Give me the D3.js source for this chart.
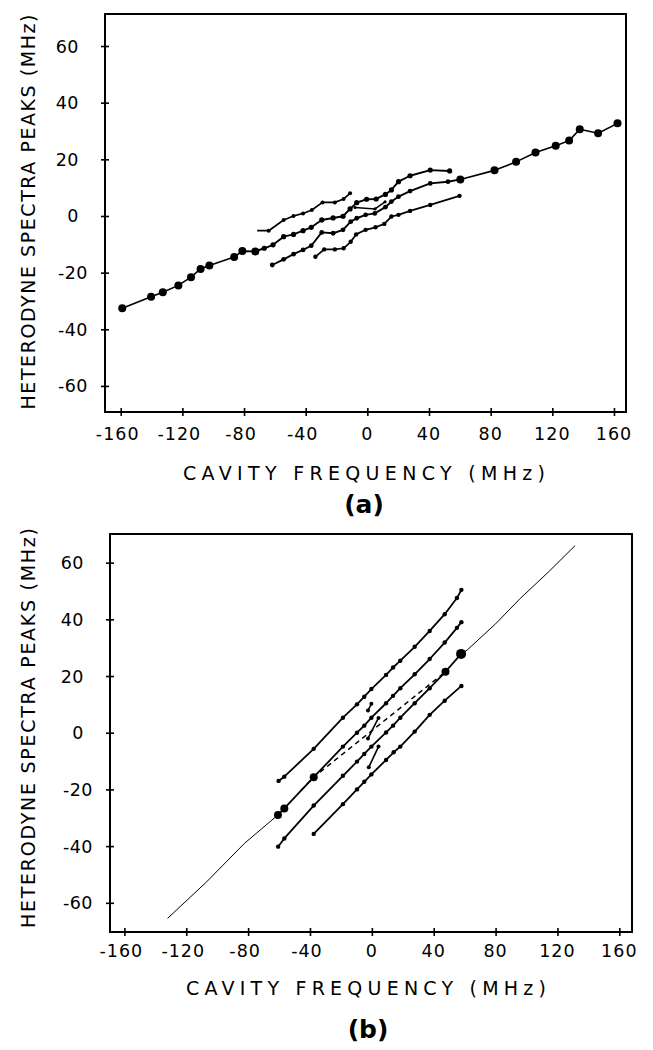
<!DOCTYPE html>
<html><head><meta charset="utf-8">
<script src="https://cdn.jsdelivr.net/npm/d3@7"></script>
<style>body{margin:0;background:#fff}svg{display:block}</style>
</head><body>
<svg id="c" width="653" height="1050"></svg>
<script>
// ---------- data ----------
const xTicks = [-160,-120,-80,-40,0,40,80,120,160];
const yTicks = [-60,-40,-20,0,20,40,60];
const xTitle = "CAVITY FREQUENCY (MHz)";
const yTitle = "HETERODYNE SPECTRA PEAKS (MHz)";

// panel (a)
const aMainLeft = [[-159,-32.6],[-140.3,-28.5],[-132.7,-26.9],[-122.6,-24.5],[-114.4,-21.6],[-108.2,-18.7],[-102.5,-17.5],[-86.4,-14.5],[-81.1,-12.4],[-72.7,-12.5]];
const aMainRight = [[60.3,12.9],[82.5,16.1],[96.5,19.1],[109.1,22.4],[122.2,24.8],[130.9,26.6],[137.8,30.6],[149.7,29.2],[162.3,32.7]];
const aCurve1 = [[-71.5,-5.2],[-64,-5.2],[-54.3,-1.4],[-47.9,0],[-41.7,0.9],[-36,2.1],[-29.1,4.8],[-21.1,4.8],[-15.4,6],[-11.2,8]];
const aCurve2 = [[-72.7,-12.5],[-66.9,-11.4],[-61.2,-10.2],[-54.3,-7.3],[-47.9,-6.5],[-41.7,-5.2],[-36.4,-4],[-29.6,-1.4],[-22.2,-0.7],[-15.8,-0.1],[-11.2,2.5],[-6.9,4.7],[-0.5,5.9],[5.7,6],[11.7,7.6],[15.6,9.2],[20.2,12.1],[27.7,14.2],[40.8,16.2],[53.4,15.9]];
const aCurve3 = [[-61.7,-17.3],[-54.3,-15.3],[-47.9,-13.5],[-41.7,-12],[-36.4,-10.5],[-29.6,-5.8],[-22.2,-6.1],[-15.8,-4.9],[-10.8,-2],[-6.9,-0.8],[-1.1,0.4],[4.8,0.9],[11.7,3.1],[15.6,5.1],[20.2,6.8],[27.7,8.8],[40.8,11.5],[52.3,12.1],[60.3,12.9]];
const aCurve4 = [[-33.7,-14.4],[-28,-11.8],[-21.1,-11.8],[-15.4,-11.4],[-10.8,-9.1],[-7.3,-6.5],[-1.1,-4.9],[5.3,-4],[11,-2.8],[15.6,-0.2],[20.2,0.4],[27.7,1.8],[40.8,3.9],[59.8,7.1]];
const aKink = [[-8,3],[5,2.5],[11.5,5]];

// panel (b)
const bThinLow = [[-132.1,-65.5],[-107,-52.7],[-82.3,-39],[-60.7,-29]];
const bThinHigh = [[57.7,27.8],[61.7,29.2],[80,38.4],[96,47.4],[114,56.6],[131.4,66]];
const bCurve1 = [[-60.3,-17],[-56.6,-15.5],[-37.6,-5.7],[-18.7,5.3],[-9.6,10],[-4.9,12.7],[-0.3,15.4],[9.2,20.4],[13.7,23],[18.4,25.4],[27.7,30.3],[37.4,35.9],[47.1,41.8],[55,47.5],[57.9,50.4]];
const bCurve2 = [[-60.7,-29],[-56.6,-26.7],[-37.6,-15.7],[-18.7,-4.9],[-9.6,0],[-4.9,2.5],[-0.3,5.3],[9.2,10.4],[13.7,13],[18.4,15.7],[27.7,20.6],[37.4,26],[47.1,31.8],[55,37],[57.9,39]];
const bCurve3 = [[-60.6,-40.2],[-56.6,-37.3],[-37.6,-25.7],[-18.7,-15.2],[-9.6,-10.2],[-4.9,-7.5],[-0.3,-4.9],[9.2,0.1],[13.7,2.5],[18.4,5.3],[27.7,10.4],[37.4,15.7],[47.6,21.5],[57.7,27.8]];
const bCurve4 = [[-37.6,-35.7],[-18.7,-25.2],[-9.6,-20],[-4.9,-17.3],[-0.3,-14.7],[9.2,-9.6],[14.1,-6.9],[18.4,-4.9],[27.7,0.4],[37.4,6.3],[47.1,11.3],[57.9,16.5]];
const bDashed = [[-46,-20.5],[-37.6,-15.7],[47.6,21.5]];
const bSeg1 = [[-2.5,7.8],[-0.3,10.2]];
const bSeg2 = [[-2.5,-2],[4.3,5.2]];
const bSeg3 = [[-2,-12.2],[4.3,-4.9]];
const bBigDots = [[-60.7,-29],[-56.6,-26.7],[-37.6,-15.7],[47.6,21.5],[57.7,27.8]];

// ---------- drawing ----------
const svg = d3.select("#c");
const FONT = "DejaVu Sans, Liberation Sans, sans-serif";

function panel(cfg){
  const g = svg.append("g");
  const x = d3.scaleLinear().domain(cfg.xd).range([cfg.L, cfg.R]);
  const y = d3.scaleLinear().domain(cfg.yd).range([cfg.B, cfg.T]);
  g.append("rect").attr("x",cfg.L).attr("y",cfg.T).attr("width",cfg.R-cfg.L).attr("height",cfg.B-cfg.T)
    .attr("fill","none").attr("stroke","#000").attr("stroke-width",2);
  const ax1 = g.append("g").attr("transform",`translate(0,${cfg.B})`)
    .call(d3.axisBottom(x).tickValues(xTicks).tickSize(4).tickFormat(""));
  const ax2 = g.append("g").attr("transform",`translate(0,${cfg.B})`)
    .call(d3.axisTop(x).tickValues(xTicks).tickSize(4).tickFormat(""));
  const ay1 = g.append("g").attr("transform",`translate(${cfg.L},0)`)
    .call(d3.axisLeft(y).tickValues(yTicks).tickSize(4).tickFormat(""));
  const ay2 = g.append("g").attr("transform",`translate(${cfg.L},0)`)
    .call(d3.axisRight(y).tickValues(yTicks).tickSize(4).tickFormat(""));
  [ax1,ax2,ay1,ay2].forEach(a=>{a.select(".domain").remove();a.selectAll("line").attr("stroke","#000").attr("stroke-width",1.6);});
  g.selectAll(".xl").data(xTicks).enter().append("text")
    .attr("x",d=>x(d)-(d<0?3:0)).attr("y",cfg.B+cfg.xlab).attr("text-anchor","middle")
    .attr("font-family",FONT).attr("font-size",17.5).attr("letter-spacing",1).text(d=>d);
  g.selectAll(".yl").data(yTicks).enter().append("text")
    .attr("x",d=>cfg.L-(d<0?17:26)).attr("y",d=>y(d)+6.5).attr("text-anchor","end")
    .attr("font-family",FONT).attr("font-size",17.5).attr("letter-spacing",0.5).text(d=>d);
  g.append("text").attr("x",cfg.xtx).attr("y",cfg.xty).attr("text-anchor","middle")
    .attr("font-family",FONT).attr("font-size",19).attr("textLength",cfg.xtw).attr("lengthAdjust","spacing").text(xTitle);
  g.append("text").attr("transform",`translate(${cfg.ytx},${cfg.yty}) rotate(-90)`).attr("text-anchor","middle")
    .attr("font-family",FONT).attr("font-size",19).attr("textLength",cfg.ytw).attr("lengthAdjust","spacing").text(yTitle);
  g.append("text").attr("x",cfg.lx).attr("y",cfg.ly).attr("text-anchor","middle")
    .attr("font-family",FONT).attr("font-size",25).attr("font-weight","bold").text(cfg.label);
  const line = d3.line().x(d=>x(d[0])).y(d=>y(d[1]));
  return {g,x,y,line};
}

function series(p, data, opt){
  p.g.append("path").datum(data).attr("d",p.line).attr("fill","none").attr("stroke","#000")
    .attr("stroke-width",opt.w||1.8).attr("stroke-dasharray",opt.dash||null).attr("stroke-linejoin","round");
  if(opt.r){
    p.g.selectAll(null).data(opt.skipFirst?data.slice(1):data).enter().append("circle")
      .attr("cx",d=>p.x(d[0])).attr("cy",d=>p.y(d[1])).attr("r",opt.r).attr("fill","#000");
  }
}

const pa = panel({L:105,R:626,T:14,B:412,xd:[-170.2,167.8],yd:[-69.2,71.3],xlab:28,
  xtx:364,xty:480,xtw:362,ytx:35,yty:212,ytw:395,lx:364,ly:513,label:"(a)"});
series(pa,aCurve1,{w:1.7,r:2,skipFirst:true});
series(pa,aCurve2,{w:1.9,r:2.6});
series(pa,aCurve3,{w:1.9,r:2.4});
series(pa,aCurve4,{w:1.7,r:2.2});
series(pa,aKink,{w:1.5,r:1.6});
series(pa,aMainLeft,{w:1.6,r:4});
series(pa,aMainRight,{w:1.6,r:4});

const pb = panel({L:110,R:632,T:534,B:932,xd:[-169.3,168.2],yd:[-70.3,70.1],xlab:25,
  xtx:366,xty:995,xtw:360,ytx:35,yty:728,ytw:400,lx:368,ly:1038,label:"(b)"});
series(pb,bThinLow,{w:1});
series(pb,bThinHigh,{w:1});
series(pb,bCurve1,{w:1.8,r:2.2});
series(pb,bCurve2,{w:1.8,r:2.2});
series(pb,bCurve3,{w:1.8,r:2.2});
series(pb,bCurve4,{w:1.8,r:2.2});
series(pb,bDashed,{w:1.5,dash:"5,4"});
series(pb,bSeg1,{w:1.6,r:2});
series(pb,bSeg2,{w:1.6,r:2});
series(pb,bSeg3,{w:1.6,r:2});
pb.g.selectAll(null).data(bBigDots).enter().append("circle")
  .attr("cx",d=>pb.x(d[0])).attr("cy",d=>pb.y(d[1])).attr("r",(d,i)=>i===4?5:4).attr("fill","#000");
</script>
</body></html>
